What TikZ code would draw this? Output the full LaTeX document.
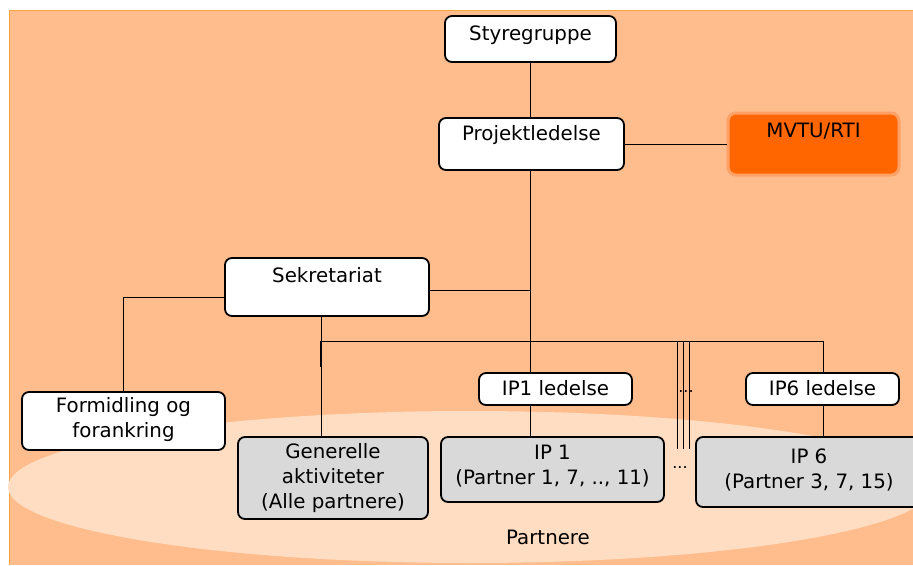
\documentclass[tikz,border=0pt]{standalone}
\usepackage{fontspec}
\setmainfont{DejaVu Sans}
\usetikzlibrary{calc}
\definecolor{bgorange}{HTML}{FFBD8D}
\definecolor{ellfill}{HTML}{FFDDC2}
\definecolor{edgeorange}{HTML}{F5A540}
\definecolor{mvtufill}{HTML}{FF6600}
\definecolor{mvtuglow}{HTML}{FFA066}
\definecolor{greybox}{HTML}{D9D9D9}
\tikzset{
  box/.style={draw=black, line width=1.8pt, rounded corners=7pt, fill=white, inner sep=0pt},
  greyb/.style={box, fill=greybox},
  txt/.style={font=\fontsize{19.8pt}{25pt}\selectfont, inner sep=0pt, align=center},
  conn/.style={draw=black, line width=0.9pt},
}
\begin{document}
\begin{tikzpicture}[x=1pt,y=-1pt]
\useasboundingbox (0,0) rectangle (913,565);
% background
\fill[bgorange] (9,10) rectangle (913,565);
\draw[edgeorange, line width=1pt] (9,565) -- (9,10) -- (913,10);
\fill[ellfill] (470,487) ellipse [x radius=462, y radius=76];
\node[txt, anchor=base] (partn) at (548,544) {Partnere};

% top boxes
\node[box, minimum width=171pt, minimum height=46pt] (sty) at (530.5,39) {};
\node[txt, anchor=base] (styt) at (530.5,40) {Styregruppe};
\node[box, minimum width=185pt, minimum height=52pt] (proj) at (531.5,144) {};
\node[txt, anchor=base] (projt) at (531.5,140) {Projektledelse};
\node[draw=mvtuglow, line width=3pt, fill=mvtufill, rounded corners=8pt, minimum width=171pt, minimum height=62pt, inner sep=0pt] (mvtu) at (813.5,144) {};
\node[txt, anchor=base] (mvtut) at (813.5,137) {MVTU/RTI};
\node[box, minimum width=204pt, minimum height=58pt] (sek) at (327,287) {};
\node[txt, anchor=base] (sekt) at (327,282) {Sekretariat};
\node[box, minimum width=203pt, minimum height=58pt] (form) at (123.5,421) {};
\node[txt] (formt) at (123.5,420) {Formidling og\\forankring};

% lower boxes
\node[greyb, minimum width=190pt, minimum height=82pt] (gen) at (333,478) {};
\node[txt] (gent) at (333,478) {Generelle\\aktiviteter\\(Alle partnere)};
\node[box, minimum width=153pt, minimum height=32pt] (ipl1) at (555.5,389) {};
\node[txt, anchor=base] (ipl1t) at (555.5,395) {IP1 ledelse};
\node[greyb, minimum width=223pt, minimum height=65pt] (ip1) at (552.5,469.5) {};
\node[txt] (ip1t) at (552.5,466) {IP 1\\(Partner 1, 7, .., 11)};
\node[box, minimum width=153pt, minimum height=32pt] (ipl6) at (822.5,389) {};
\node[txt, anchor=base] (ipl6t) at (822.5,395) {IP6 ledelse};
\node[greyb, minimum width=226pt, minimum height=70pt] (ip6) at (809,472) {};
\node[txt] (ip6t) at (809,470) {IP 6\\(Partner 3, 7, 15)};

% dots
\node[font=\fontsize{16pt}{16pt}\selectfont, inner sep=0pt] (dots1) at (686,392) {...};
\node[font=\fontsize{16pt}{16pt}\selectfont, inner sep=0pt] (dots2) at (680,468) {...};

% coordinates
\coordinate (busL) at (321,341);
\coordinate (busR) at (823,341);
\coordinate (m1) at (677,341);
\coordinate (m2) at (683,341);
\coordinate (m3) at (689,341);
\coordinate (m1e) at (677,449);
\coordinate (m2e) at (683,449);
\coordinate (m3e) at (689,449);

% connectors
\draw[conn] (sty.south -| 530,0) -- (proj.north -| 530,0);
\draw[conn] (proj.east) -- (mvtu.west);
\draw[conn] (proj.south -| 530,0) -- (ipl1.north -| 530,0);
\draw[conn] (sek.east |- 0,290) -- (530,290);
\draw[conn] ([yshift=-10pt]sek.west) -| (form.north);
\draw[conn] (sek.south -| busL) -- (gen.north -| busL);
\draw[line width=2pt] (busL) -- ($(busL)+(0,26)$);
\draw[conn] (busL) -- (busR) -- (ipl6.north -| busR);
\draw[conn] (ipl1.south -| 530,0) -- (ip1.north -| 530,0);
\draw[conn] (ipl6.south -| busR) -- (ip6.north -| busR);
\draw[conn] (m1) -- (m1e);
\draw[conn] (m2) -- (m2e);
\draw[conn] (m3) -- (m3e);
\end{tikzpicture}
\end{document}
